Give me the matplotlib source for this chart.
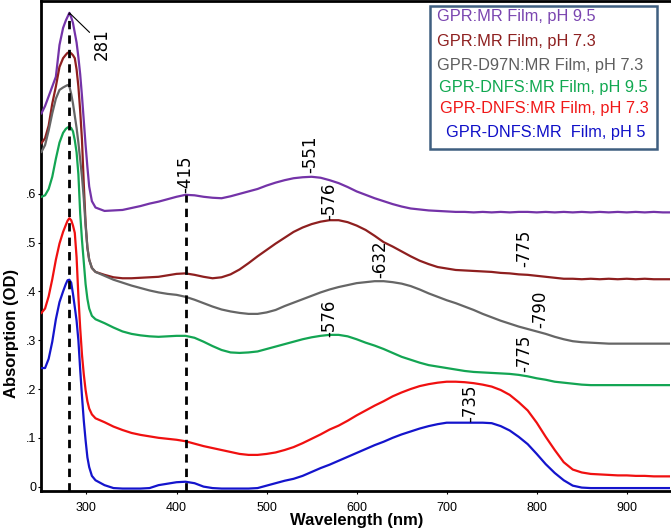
import numpy as np
import matplotlib
matplotlib.use("Agg")
import matplotlib.pyplot as plt
from matplotlib.patches import Rectangle

# ---------------- data ----------------
wavelength = [250, 254, 258, 262, 266, 270, 274, 277, 279, 281, 283, 285, 287, 289, 291,
              293, 295, 297, 299, 301, 303, 306, 310,
              320, 330, 340, 350, 360, 370, 380, 390, 400, 410,
              420, 430, 440, 450, 460, 470, 480, 490, 500, 510,
              520, 530, 540, 550, 560, 570, 580, 590, 600, 610,
              620, 630, 640, 650, 660, 670, 680, 690, 700, 710,
              720, 730, 740, 750, 760, 770, 780, 790, 800, 810,
              820, 830, 840, 850, 860, 870, 880, 890, 900, 910,
              920, 930, 940, 948]

gpr_mr_ph95 = [0.765, 0.780, 0.800, 0.820, 0.840, 0.905, 0.940, 0.955, 0.963, 0.971, 0.962,
               0.950, 0.930, 0.910, 0.880, 0.845, 0.800, 0.750, 0.700, 0.655, 0.615, 0.585, 0.572,
               0.565, 0.566, 0.567, 0.571, 0.575, 0.580, 0.584, 0.589, 0.594, 0.598,
               0.597, 0.594, 0.592, 0.591, 0.595, 0.600, 0.605, 0.610, 0.617, 0.623,
               0.628, 0.632, 0.634, 0.635, 0.633, 0.628, 0.622, 0.614, 0.605, 0.598,
               0.591, 0.585, 0.579, 0.574, 0.570, 0.568, 0.566, 0.565, 0.564, 0.563,
               0.563, 0.562, 0.563, 0.562, 0.563, 0.562, 0.563, 0.563, 0.562, 0.563,
               0.562, 0.563, 0.562, 0.563, 0.562, 0.563, 0.562, 0.563, 0.562, 0.563,
               0.562, 0.563, 0.562, 0.562]

gpr_mr_ph73 = [0.704, 0.714, 0.740, 0.785, 0.820, 0.860, 0.878, 0.885, 0.889, 0.890, 0.888,
               0.884, 0.878, 0.855, 0.820, 0.770, 0.710, 0.620, 0.540, 0.490, 0.465, 0.448, 0.440,
               0.434, 0.429, 0.427, 0.427, 0.428, 0.429, 0.430, 0.433, 0.436, 0.437,
               0.434, 0.430, 0.427, 0.429, 0.435, 0.445, 0.458, 0.472, 0.485, 0.498,
               0.510, 0.522, 0.531, 0.538, 0.543, 0.546, 0.546, 0.542, 0.535, 0.526,
               0.514, 0.501, 0.492, 0.482, 0.472, 0.463, 0.456, 0.450, 0.447, 0.444,
               0.443, 0.442, 0.441, 0.440, 0.438, 0.437, 0.435, 0.434, 0.432, 0.430,
               0.428, 0.426, 0.426, 0.425, 0.426, 0.425, 0.426, 0.425, 0.426, 0.425,
               0.426, 0.425, 0.425, 0.425]

gpr_d97n_ph73 = [0.686, 0.700, 0.730, 0.765, 0.795, 0.813, 0.818, 0.821, 0.823, 0.820, 0.805,
                 0.785, 0.760, 0.735, 0.705, 0.670, 0.635, 0.590, 0.535, 0.490, 0.465, 0.448, 0.440,
                 0.432, 0.424, 0.418, 0.412, 0.407, 0.402, 0.398, 0.395, 0.393, 0.389,
                 0.383, 0.376, 0.369, 0.363, 0.359, 0.356, 0.354, 0.354, 0.357, 0.362,
                 0.370, 0.377, 0.384, 0.391, 0.398, 0.404, 0.409, 0.413, 0.417, 0.419,
                 0.421, 0.421, 0.419, 0.416, 0.411, 0.404, 0.396, 0.389, 0.382, 0.376,
                 0.369, 0.362, 0.354, 0.347, 0.340, 0.334, 0.328, 0.323, 0.318, 0.313,
                 0.307, 0.302, 0.298, 0.296, 0.295, 0.294, 0.293, 0.293, 0.293, 0.293,
                 0.293, 0.293, 0.293, 0.293]

gpr_dnfs_ph95 = [0.594, 0.597, 0.610, 0.635, 0.672, 0.705, 0.725, 0.733, 0.736, 0.737, 0.735,
                 0.728, 0.710, 0.685, 0.640, 0.560, 0.505, 0.460, 0.415, 0.385, 0.365, 0.350, 0.343,
                 0.335, 0.326, 0.318, 0.313, 0.310, 0.308, 0.307, 0.308, 0.309, 0.309,
                 0.305, 0.297, 0.288, 0.280, 0.275, 0.274, 0.275, 0.277, 0.282, 0.287,
                 0.292, 0.297, 0.302, 0.306, 0.309, 0.311, 0.311, 0.308, 0.302, 0.295,
                 0.289, 0.282, 0.274, 0.266, 0.260, 0.254, 0.249, 0.246, 0.243, 0.240,
                 0.237, 0.235, 0.234, 0.233, 0.232, 0.231, 0.229, 0.226, 0.222, 0.219,
                 0.215, 0.213, 0.211, 0.209, 0.208, 0.208, 0.208, 0.208, 0.208, 0.208,
                 0.208, 0.208, 0.208, 0.208]

gpr_dnfs_ph73 = [0.356, 0.365, 0.390, 0.425, 0.465, 0.498, 0.522, 0.536, 0.545, 0.550, 0.546,
                 0.535, 0.520, 0.470, 0.390, 0.325, 0.270, 0.230, 0.198, 0.175, 0.160, 0.148, 0.140,
                 0.132, 0.123, 0.116, 0.110, 0.106, 0.103, 0.100, 0.098, 0.096, 0.093,
                 0.088, 0.083, 0.079, 0.075, 0.071, 0.067, 0.065, 0.065, 0.067, 0.070,
                 0.075, 0.081, 0.089, 0.098, 0.107, 0.117, 0.125, 0.135, 0.146, 0.156,
                 0.166, 0.175, 0.185, 0.193, 0.200, 0.206, 0.210, 0.213, 0.215, 0.215,
                 0.214, 0.212, 0.209, 0.205, 0.198, 0.188, 0.173, 0.156, 0.131, 0.102,
                 0.075, 0.050, 0.035, 0.029, 0.026, 0.025, 0.024, 0.023, 0.023, 0.022,
                 0.022, 0.021, 0.021, 0.021]

gpr_dnfs_ph5 = [0.243, 0.243, 0.262, 0.297, 0.343, 0.378, 0.400, 0.415, 0.423, 0.424, 0.418,
                0.395, 0.368, 0.340, 0.300, 0.240, 0.185, 0.135, 0.095, 0.060, 0.040, 0.022, 0.013,
                0.003, -0.003, -0.004, -0.004, -0.004, -0.003, 0.003, 0.006, 0.009, 0.010,
                0.007, 0.000, -0.003, -0.004, -0.004, -0.004, -0.004, -0.003, 0.002, 0.007,
                0.012, 0.016, 0.022, 0.030, 0.038, 0.045, 0.053, 0.061, 0.069, 0.077,
                0.085, 0.092, 0.100, 0.107, 0.113, 0.119, 0.124, 0.128, 0.131, 0.131,
                0.131, 0.131, 0.131, 0.130, 0.124, 0.115, 0.102, 0.087, 0.067, 0.046,
                0.028, 0.013, 0.002, -0.002, -0.003, -0.003, -0.003, -0.003, -0.003, -0.003,
                -0.003, -0.003, -0.003, -0.003]

series_labels = ["GPR:MR Film, pH 9.5", "GPR:MR Film, pH 7.3", "GPR-D97N:MR Film, pH 7.3",
                 "GPR-DNFS:MR Film, pH 9.5", "GPR-DNFS:MR Film, pH 7.3",
                 "GPR-DNFS:MR  Film, pH 5"]

peak_labels = ["-415", "-551", "-576", "-632", "-775", "-790", "-576", "-775", "-735"]
peak_x = [409.5, 548, 569.5, 626, 786, 804, 570, 786, 726]
peak_y = [0.601, 0.642, 0.546, 0.427, 0.450, 0.325, 0.307, 0.235, 0.133]

uv_peak = 281
guide_lines = [281, 411]

xticks = [300, 400, 500, 600, 700, 800, 900]
yticks = [0, 0.1, 0.2, 0.3, 0.4, 0.5, 0.6]
ytick_labels = ["0", ".1", ".2", ".3", ".4", ".5", ".6"]

# ---------------- styles ----------------
line_colors = ["#7433A8", "#8E1F1F", "#666666", "#13A553", "#F01010", "#1414CC"]
text_colors = ["#7A45B0", "#8E2020", "#5E5E5E", "#10A850", "#F01818", "#1010C8"]

series = [gpr_mr_ph95, gpr_mr_ph73, gpr_d97n_ph73, gpr_dnfs_ph95, gpr_dnfs_ph73, gpr_dnfs_ph5]

fig = plt.figure(figsize=(6.71, 5.29), dpi=100)
ax = fig.add_axes([0.0618, 0.0709, 0.9367, 0.927])

for vals, c in zip(series, line_colors):
    ax.plot(wavelength, vals, color=c, lw=1.6, zorder=3, solid_joinstyle="round")

ylo, yhi = -0.01, 0.995
ax.set_xlim(250, 948)
ax.set_ylim(ylo, yhi)

# vertical guide lines up to the top (purple) curve
for gx in guide_lines:
    top = np.interp(gx, wavelength, gpr_mr_ph95)
    ax.vlines(gx, ylo, top, colors="black", lw=2, linestyles=(0, (3, 2.2)), zorder=4)

# 281 annotation with leader line
ax.annotate("281", xy=(uv_peak, np.interp(uv_peak, wavelength, gpr_mr_ph95)),
            xytext=(316.5, 0.94), rotation=90, ha="center", va="top",
            fontsize=12, family="DejaVu Sans",
            arrowprops=dict(arrowstyle="-", lw=0.8, color="black", shrinkA=0, shrinkB=0))

for lab, px, py in zip(peak_labels, peak_x, peak_y):
    ax.text(px, py, lab, rotation=90, ha="center", va="bottom", fontsize=12,
            family="DejaVu Sans", zorder=5)

# ticks and spines
ax.set_xticks(xticks)
ax.set_xticklabels([str(t) for t in xticks], fontsize=9, family="Liberation Sans")
ax.set_yticks(yticks)
ax.set_yticklabels(ytick_labels, fontsize=9, family="Liberation Sans")
ax.tick_params(axis="x", direction="out", length=2.5, width=0.8, pad=5)
ax.tick_params(axis="y", direction="out", length=2.5, width=0.8, pad=1)
ax.spines["right"].set_visible(False)
for s in ["left", "bottom", "top"]:
    ax.spines[s].set_linewidth(2)

fig.text(0.532, 0.017, "Wavelength (nm)", ha="center", va="center",
         fontsize=12, fontweight="bold", family="Liberation Sans")
fig.text(0.0164, 0.3705, "Absorption (OD)", ha="center", va="center", rotation=90,
         fontsize=12, fontweight="bold", family="Liberation Sans")

# legend box
box = Rectangle((0.618, 0.698), 0.362, 0.2918, transform=ax.transAxes,
                facecolor="white", edgecolor="#3F5F80", lw=1.8, zorder=6)
ax.add_patch(box)
leg_x = [0.6288, 0.6288, 0.6288, 0.6325, 0.634, 0.6436]
leg_y = [0.968, 0.917, 0.868, 0.824, 0.780, 0.732]
for lab, c, lx, ly in zip(series_labels, text_colors, leg_x, leg_y):
    ax.text(lx, ly, lab, color=c, transform=ax.transAxes, ha="left", va="center",
            fontsize=11.8, family="Liberation Sans", zorder=7)

fig.savefig("out.png", dpi=100)
